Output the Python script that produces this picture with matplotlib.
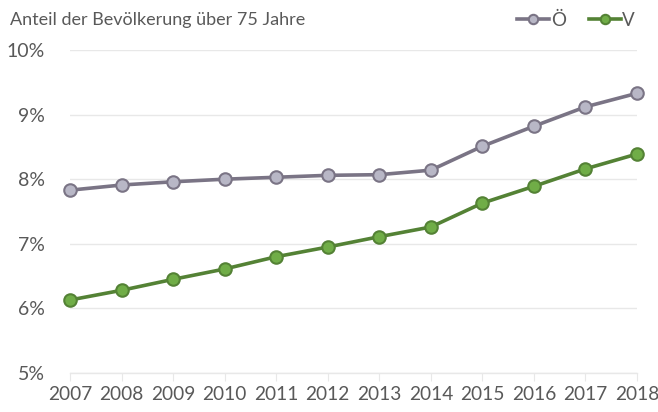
import numpy as np
import matplotlib.pyplot as plt
from matplotlib.ticker import FuncFormatter

plt.rcParams['font.family'] = ['Lato', 'DejaVu Sans']

years = [2007, 2008, 2009, 2010, 2011, 2012, 2013, 2014, 2015, 2016, 2017, 2018]
oe = [7.83, 7.91, 7.96, 8.00, 8.03, 8.06, 8.07, 8.14, 8.51, 8.82, 9.12, 9.33]
vb = [6.13, 6.28, 6.45, 6.61, 6.80, 6.95, 7.11, 7.26, 7.63, 7.89, 8.16, 8.39]
yticks = [5, 6, 7, 8, 9, 10]

txt = '#595959'
grid = '#e8e8e8'

fig = plt.figure(figsize=(6.58, 4.12), dpi=100)
ax = fig.add_axes([70 / 658, 1 - 373 / 412, (637 - 70) / 658, (373 - 50) / 412])

ax.plot(years, oe, color='#7a7485', lw=2.6, marker='o', ms=9,
        mfc='#b8b7c6', mec='#7a7485', mew=1.5, label='Ö', zorder=3)
ax.plot(years, vb, color='#548235', lw=2.6, marker='o', ms=9,
        mfc='#70ad47', mec='#548235', mew=1.5, label='V', zorder=3)

ax.set_xlim(years[0], years[-1])
ax.set_ylim(5, 10)
ax.set_yticks(yticks)
ax.yaxis.set_major_formatter(FuncFormatter(lambda v, p: f'{v:.0f}%'))
ax.set_xticks(years)
ax.set_xticklabels([str(y) for y in years])

ax.grid(axis='y', color=grid, lw=1)
ax.set_axisbelow(True)
for s in ['top', 'right', 'left']:
    ax.spines[s].set_visible(False)
ax.spines['bottom'].set_color(grid)
ax.spines['bottom'].set_linewidth(1)
ax.tick_params(axis='y', length=0, pad=18, labelsize=14, labelcolor=txt)
ax.tick_params(axis='x', length=6, color=grid, pad=3, labelsize=13.8, labelcolor=txt)
for ln in ax.lines:
    ln.set_clip_on(False)

fig.text(10 / 658, 1 - 20 / 412, 'Anteil der Bevölkerung über 75 Jahre',
         fontsize=13, color=txt, va='center', ha='left')

leg = ax.legend(loc='center right', bbox_to_anchor=(652 / 658, 1 - 20 / 412),
                bbox_transform=fig.transFigure, ncol=2, frameon=False,
                fontsize=13.5, handlelength=1.7, handletextpad=0.1,
                columnspacing=1.2, markerscale=0.75)
for t in leg.get_texts():
    t.set_color(txt)

fig.savefig('out.png', dpi=100)
